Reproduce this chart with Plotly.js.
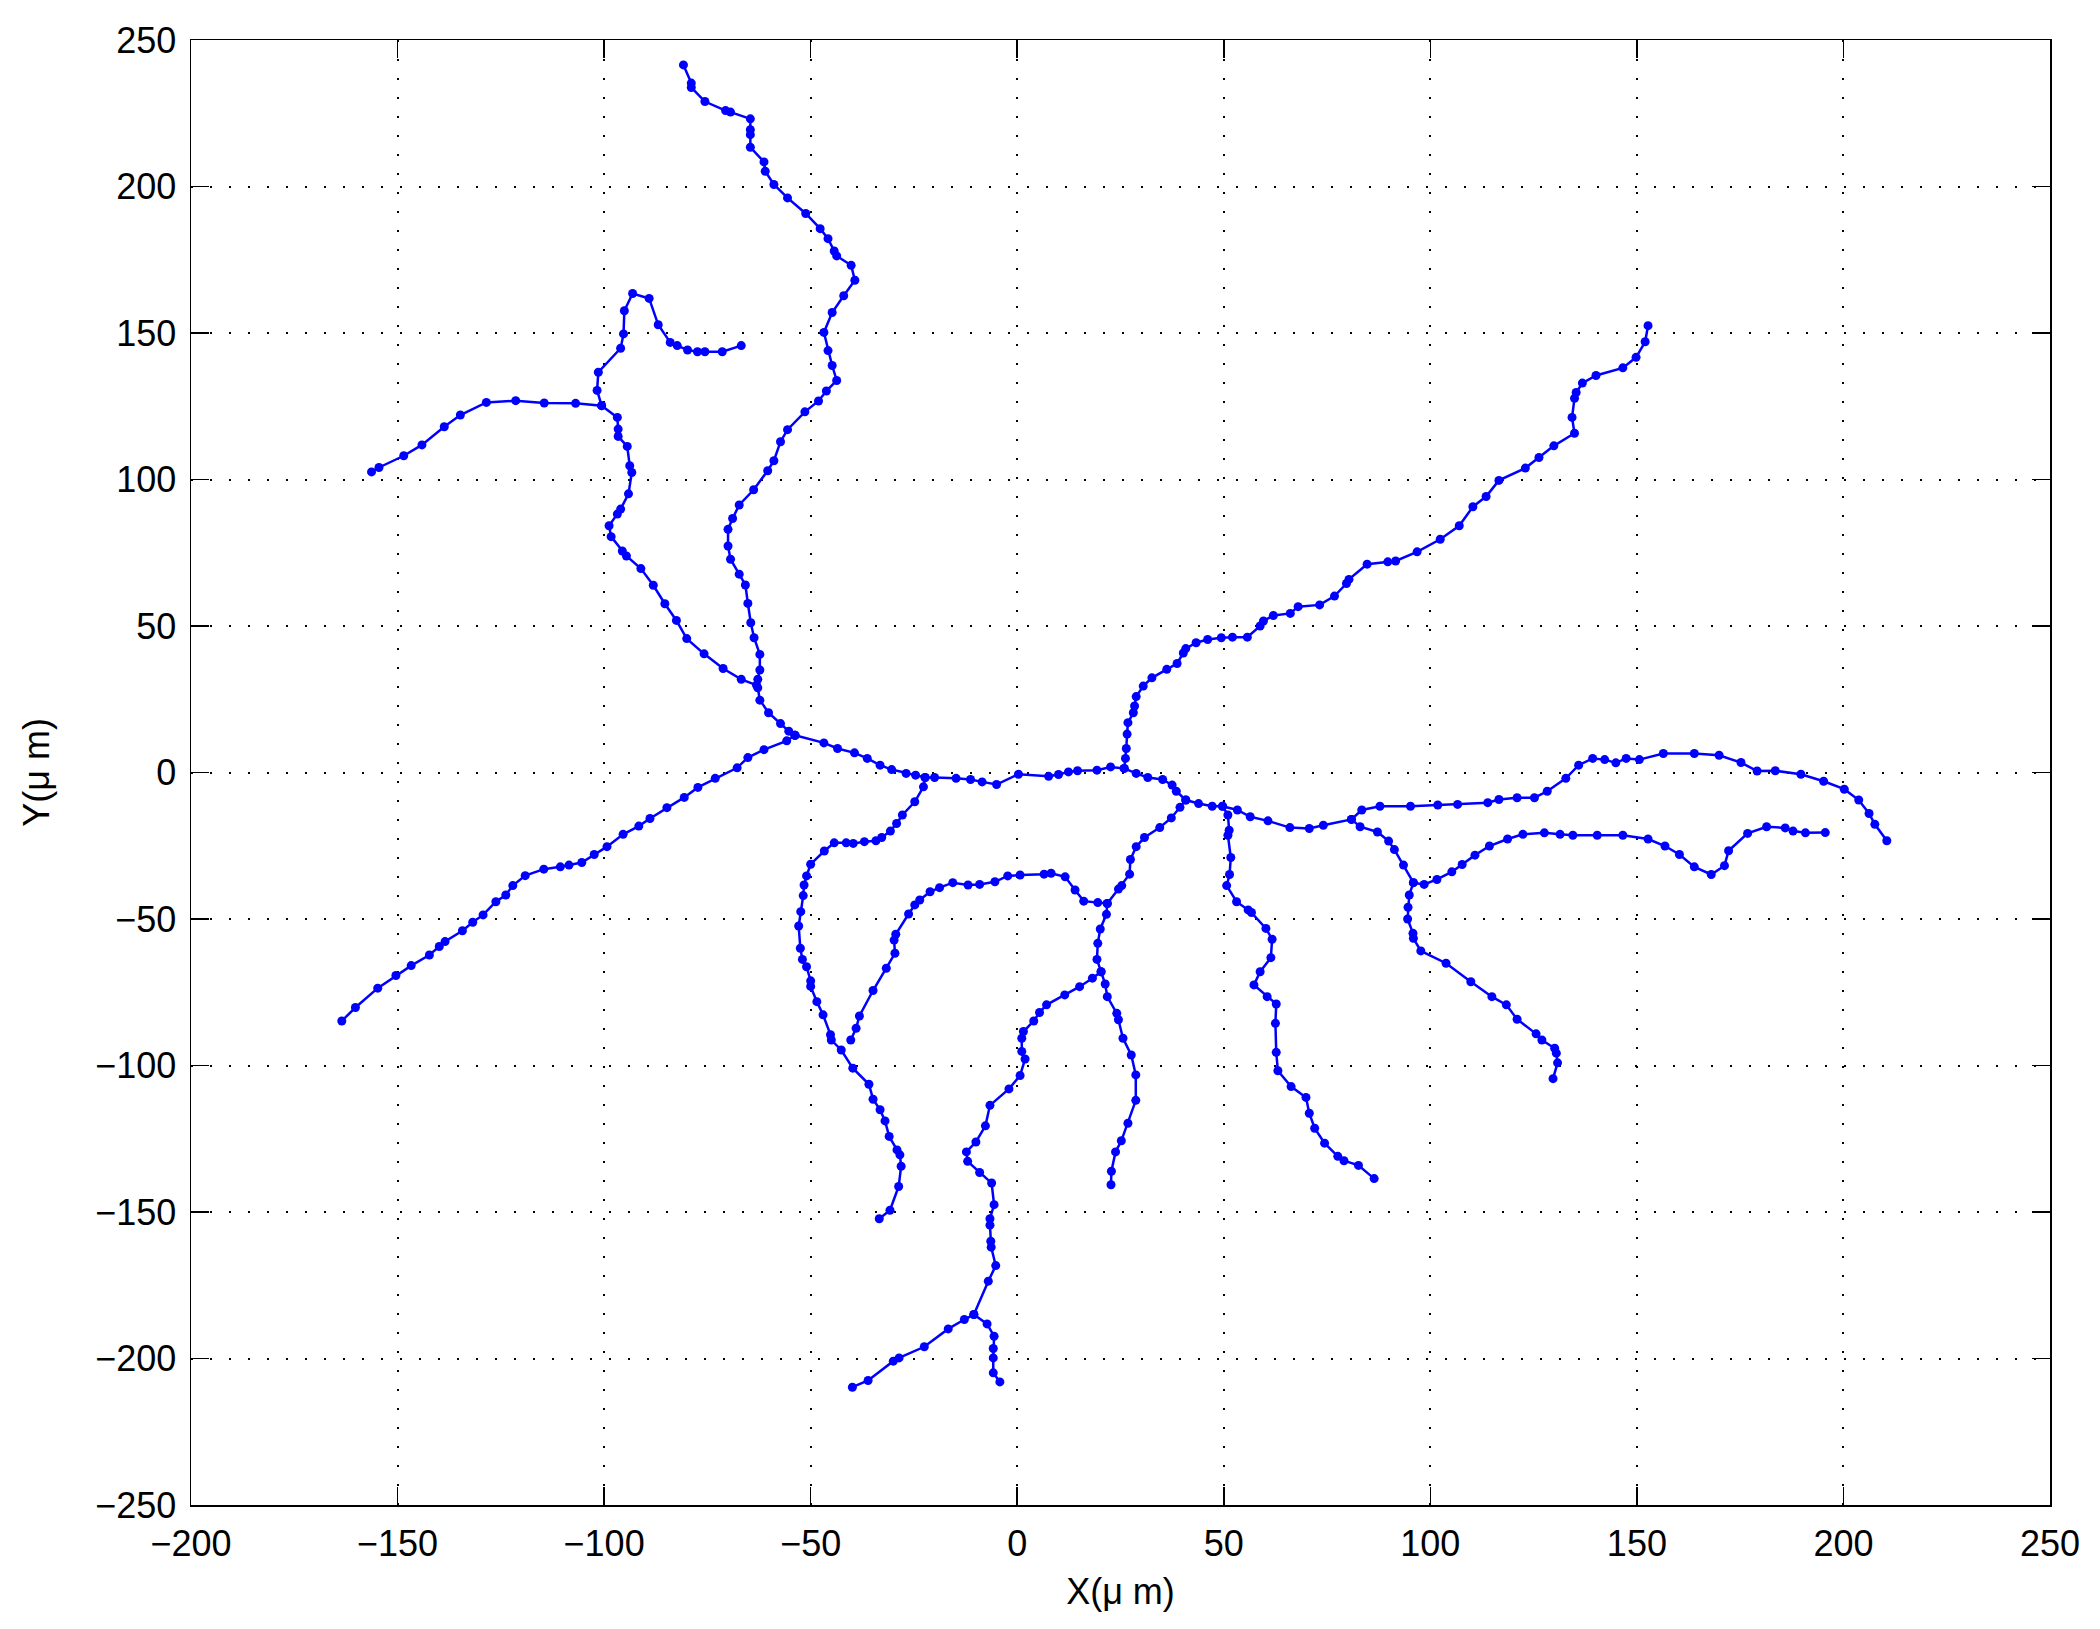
<!DOCTYPE html>
<html>
<head>
<meta charset="utf-8">
<script src="https://cdn.plot.ly/plotly-3.0.1.min.js"></script>
<style>html,body{margin:0;padding:0;background:#fff;}#chart{width:2100px;height:1629px;}</style>
</head>
<body>
<div id="chart"></div>
<script>
// Traced neuron branches, [x, y] in micrometres
const branchA = [[-80.8,241.5],[-78.9,235.3],[-78.9,233.8],[-75.6,229.0],[-70.6,225.9],[-69.4,225.4],[-64.6,223.1],[-64.6,219.4],[-64.6,217.7],[-64.6,213.4],[-61.3,208.4],[-61.0,205.2],[-58.9,200.7],[-55.6,196.1],[-51.2,190.8],[-47.7,185.6],[-45.8,182.2],[-44.3,178.0],[-43.7,176.3],[-40.2,173.1],[-39.3,168.0],[-42.0,162.7],[-44.8,157.0],[-46.8,150.2],[-45.8,144.0],[-44.8,138.9],[-43.7,133.8],[-46.2,130.2],[-48.1,126.8],[-51.4,123.1],[-55.6,117.0],[-57.3,112.9],[-58.9,106.4],[-60.4,103.0],[-63.8,96.5],[-67.3,91.3],[-68.9,86.7],[-70.0,83.0],[-70.0,77.3],[-69.4,72.8],[-67.3,67.7],[-65.8,64.0],[-65.2,57.7],[-64.5,51.1],[-63.7,46.0],[-62.3,40.3],[-62.3,35.0],[-62.8,31.8],[-62.8,28.9],[-62.3,24.7],[-60.2,20.4],[-57.3,16.7],[-55.3,14.1],[-53.8,12.7]];
const branchB = [[-156.3,102.6],[-154.5,104.1],[-148.5,108.1],[-144.1,111.8],[-138.7,118.0],[-134.8,122.0],[-128.5,126.3],[-121.4,126.9],[-114.5,126.1],[-106.9,126.0],[-100.6,125.2],[-96.8,121.2],[-96.6,117.2],[-96.6,114.7],[-94.4,111.3],[-93.8,104.7],[-93.3,102.4],[-94.1,95.1],[-96.0,89.9],[-96.8,88.2],[-98.8,84.2],[-98.3,80.5],[-95.6,75.6],[-94.6,73.9],[-91.1,69.6],[-88.1,63.9],[-85.3,57.6],[-82.5,51.9],[-80.0,45.7],[-75.8,40.5],[-71.2,35.5],[-66.8,31.8],[-63.1,29.8]];
const branchHook = [[-100.6,125.2],[-101.7,130.4],[-101.4,136.6],[-96.0,144.8],[-95.3,149.7],[-95.1,157.6],[-93.1,163.5],[-89.1,161.8],[-86.9,152.8],[-84.0,146.8],[-82.3,145.7],[-79.8,144.2],[-77.4,143.6],[-75.6,143.6],[-71.4,143.6],[-66.8,145.7]];
const branchC = [[-53.8,12.7],[-55.8,10.8],[-61.3,7.8],[-65.2,5.1],[-67.8,1.6],[-73.1,-2.0],[-77.3,-5.1],[-80.6,-8.5],[-84.8,-12.0],[-88.9,-15.7],[-91.6,-18.3],[-95.4,-21.1],[-99.3,-25.3],[-102.4,-28.0],[-105.4,-30.7],[-108.5,-31.6],[-110.6,-32.2],[-114.6,-33.0],[-119.1,-35.2],[-122.1,-38.6],[-123.8,-41.8],[-126.2,-44.1],[-129.3,-48.6],[-131.8,-51.1],[-134.3,-54.0],[-138.5,-57.7],[-139.9,-59.4],[-142.3,-62.3],[-146.7,-65.9],[-150.4,-69.3],[-154.8,-73.6],[-160.2,-80.2],[-163.5,-84.8]];
const branchD = [[-53.8,12.7],[-46.8,10.1],[-43.5,8.2],[-39.4,6.7],[-36.3,4.8],[-33.2,2.5],[-30.4,1.0],[-26.9,-0.3],[-24.6,-0.9],[-22.3,-1.7],[-20.0,-1.7],[-14.8,-2.0],[-11.3,-2.4],[-8.5,-3.2],[-5.0,-4.1],[0.3,-0.6],[7.6,-1.3],[10.0,-0.7],[12.4,0.2],[14.6,0.6],[19.3,0.8],[22.6,1.9],[25.9,1.4],[28.8,-0.3],[31.6,-1.7],[35.2,-2.4],[37.5,-4.3],[38.5,-6.4],[40.8,-9.4],[43.9,-10.6],[47.2,-11.5],[49.7,-11.5],[53.3,-12.8],[56.4,-15.1],[60.7,-16.5],[66.0,-18.8],[70.7,-19.1],[74.1,-18.0],[80.9,-16.0],[83.4,-12.8],[87.8,-11.5],[95.2,-11.5],[101.8,-11.1],[106.6,-10.9],[113.9,-10.3],[116.6,-9.2],[121.0,-8.6],[125.2,-8.6],[128.3,-6.4],[132.8,-2.0],[135.9,2.5],[139.3,4.8],[142.2,4.4],[144.9,3.3],[147.4,4.8],[150.6,4.4],[156.4,6.5],[163.9,6.5],[169.9,5.9],[175.2,3.4],[179.1,0.5],[183.5,0.6],[189.7,-0.6],[195.2,-3.0],[200.2,-5.7],[203.7,-9.4],[206.2,-14.0],[207.6,-17.7],[210.5,-23.3]];
const branchE = [[-22.3,-1.7],[-22.7,-4.9],[-24.8,-10.0],[-27.8,-14.5],[-29.2,-17.4],[-30.7,-20.0],[-32.8,-22.2],[-34.2,-23.3],[-37.0,-23.6],[-39.7,-24.2],[-41.4,-24.0],[-44.3,-24.0],[-46.7,-26.8],[-50.0,-31.3],[-51.0,-35.3],[-51.6,-38.4],[-51.8,-42.0],[-52.4,-47.5],[-52.9,-52.4],[-52.5,-60.0],[-52.0,-63.8],[-51.0,-66.3],[-50.0,-71.1],[-50.0,-73.0],[-48.5,-78.2],[-47.0,-82.7],[-45.2,-89.5],[-45.0,-91.3],[-42.6,-94.7],[-39.8,-100.9],[-35.9,-106.4],[-34.9,-111.5],[-33.2,-115.1],[-32.0,-118.9],[-31.0,-124.2],[-29.1,-128.8],[-28.4,-130.5],[-28.1,-134.4],[-28.7,-141.3],[-30.8,-149.4],[-33.4,-152.3]];
const branchF = [[25.9,1.4],[26.2,4.8],[26.4,8.2],[26.6,13.1],[26.8,17.0],[28.1,20.4],[28.4,22.7],[28.8,25.9],[30.5,29.5],[32.6,32.3],[36.2,35.2],[38.7,37.2],[40.2,40.8],[40.8,42.3],[43.3,44.3],[46.1,45.4],[49.4,46.0],[52.1,46.2],[55.7,46.2],[58.8,50.0],[59.6,51.7],[62.0,53.6],[66.1,54.3],[68.0,56.6],[73.2,57.2],[76.8,60.2],[79.7,64.5],[80.3,65.9],[84.7,71.1],[89.7,71.9],[91.6,72.2],[96.8,75.3],[102.4,79.6],[107.0,84.2],[110.3,90.7],[113.5,94.2],[116.6,99.7],[123.0,103.9],[126.3,107.5],[129.9,111.5],[134.9,115.8],[134.3,121.2],[134.9,127.7],[135.3,129.7],[136.8,132.9],[140.1,135.5],[146.6,138.1],[149.8,141.7],[152.0,147.0],[152.7,152.5]];
const branchG = [[40.8,-9.4],[39.4,-11.9],[37.3,-15.5],[34.5,-18.8],[30.8,-22.2],[28.8,-25.3],[27.4,-29.7],[27.2,-34.7],[25.3,-38.6],[24.5,-39.8],[21.8,-44.7],[21.6,-48.4],[20.1,-53.4],[19.5,-58.3],[19.3,-63.8],[20.3,-68.0],[21.3,-72.2],[21.8,-76.5],[24.1,-82.2],[24.5,-84.4],[25.6,-90.7],[27.6,-96.4],[28.7,-103.2],[28.7,-111.9],[26.8,-119.7],[25.2,-125.7],[23.8,-129.5],[22.8,-136.1],[22.7,-140.7]];
const branchH = [[21.8,-44.7],[19.5,-44.4],[16.1,-43.9],[14.0,-40.1],[11.6,-35.6],[8.2,-34.4],[6.5,-34.7],[0.7,-35.0],[-2.3,-35.3],[-5.4,-37.3],[-9.1,-38.2],[-11.9,-38.4],[-15.6,-37.6],[-18.8,-39.3],[-21.1,-40.7],[-23.6,-43.5],[-24.8,-45.2],[-26.3,-48.3],[-29.4,-55.2],[-29.8,-57.2],[-29.6,-61.7],[-31.7,-66.8],[-34.9,-74.4],[-38.2,-83.1],[-39.0,-87.3],[-40.3,-91.3]];
const branchI = [[20.3,-68.0],[18.2,-70.2],[15.1,-73.1],[11.5,-75.9],[7.1,-79.3],[5.4,-81.9],[4.0,-84.8],[1.5,-88.4],[1.1,-90.7],[1.1,-95.2],[1.9,-97.8],[0.7,-103.4],[-2.0,-108.0],[-6.6,-113.6],[-7.7,-120.6],[-10.0,-126.1],[-12.3,-129.5],[-12.0,-132.7],[-9.1,-136.5],[-6.2,-140.1],[-5.6,-147.5],[-6.6,-152.3],[-6.6,-154.5],[-6.4,-160.0],[-6.3,-162.0],[-5.2,-168.3],[-7.0,-173.6],[-10.5,-185.0],[-7.3,-188.2],[-5.6,-192.4],[-5.8,-196.6],[-5.8,-199.8],[-5.8,-204.9],[-4.2,-208.0]];
const branchK = [[-10.5,-185.0],[-12.8,-186.7],[-16.7,-189.9],[-22.5,-196.0],[-28.6,-199.8],[-30.0,-200.9],[-36.1,-207.5],[-39.9,-209.8]];
const branchG2 = [[49.7,-11.5],[51.0,-14.5],[51.3,-19.7],[51.0,-21.4],[51.7,-29.0],[51.4,-34.8],[50.7,-38.6],[53.1,-44.1],[55.9,-46.9],[56.7,-47.8],[60.2,-53.2],[61.7,-56.9],[61.4,-63.2],[58.8,-68.0],[57.3,-72.5],[60.5,-76.5],[62.7,-79.0],[62.5,-85.6],[62.7,-95.5],[63.1,-101.8],[66.3,-107.2],[69.9,-110.9],[70.7,-116.3],[72.0,-121.4],[74.4,-126.5],[77.6,-131.0],[79.1,-132.5],[82.6,-134.1],[86.4,-138.6]];
const branchM = [[80.9,-16.0],[83.0,-18.5],[87.2,-20.3],[89.9,-23.4],[91.3,-26.3],[93.5,-31.6],[95.9,-37.6],[94.9,-41.8],[94.6,-46.0],[94.5,-50.0],[95.8,-54.9],[95.9,-56.6],[97.7,-60.9],[103.8,-65.1],[109.8,-71.4],[114.9,-76.5],[118.4,-79.3],[121.0,-84.2],[125.6,-89.2],[127.0,-91.3],[130.1,-94.1],[130.5,-95.8],[130.8,-99.1],[129.7,-104.5]];
const branchN = [[95.9,-37.6],[98.5,-38.2],[101.6,-36.5],[105.2,-33.9],[107.7,-31.4],[110.8,-28.2],[114.3,-25.1],[118.7,-22.7],[122.4,-21.1],[127.6,-20.6],[131.4,-21.1],[134.5,-21.4],[140.4,-21.4],[146.6,-21.4],[152.7,-22.7],[156.8,-25.1],[160.3,-28.0],[163.9,-32.2],[168.0,-34.8],[171.2,-31.8],[172.2,-26.7],[176.8,-20.8],[181.4,-18.5],[185.9,-18.9],[187.8,-20.0],[190.8,-20.6],[195.6,-20.5]];

const xTicks = [-200,-150,-100,-50,0,50,100,150,200,250];
const yTicks = [-250,-200,-150,-100,-50,0,50,100,150,200,250];
const xLabel = 'X(\u03bc m)';
const yLabel = 'Y(\u03bc m)';

const branches = [branchA, branchB, branchHook, branchC, branchD, branchE, branchF, branchG, branchH, branchI, branchK, branchG2, branchM, branchN];

const traces = branches.map(b => ({
  type: 'scatter',
  mode: 'lines+markers',
  x: b.map(p => p[0]),
  y: b.map(p => p[1]),
  line: {color: '#0000ff', width: 2.5},
  marker: {color: '#0000ff', size: 9},
  showlegend: false,
  hoverinfo: 'x+y'
}));

const font = {family: '"Liberation Sans", Arial, Helvetica, sans-serif', size: 36, color: '#000'};

const axisCommon = {
  showline: true, linecolor: '#000', linewidth: 1.5, mirror: 'ticks',
  ticks: 'inside', ticklen: 18, tickwidth: 1.5, tickcolor: '#000',
  showgrid: true, gridcolor: '#000', gridwidth: 2, griddash: '2px,17px',
  zeroline: false, automargin: false, tickfont: font
};

const fmt = v => (v < 0 ? '\u2212' + Math.abs(v) : String(v));

const layout = {
  width: 2100, height: 1629,
  margin: {l: 191, r: 50, t: 40, b: 124},
  paper_bgcolor: '#fff', plot_bgcolor: '#fff',
  font: font,
  xaxis: Object.assign({}, axisCommon, {
    range: [-200, 250], tickmode: 'array', tickvals: xTicks, ticktext: xTicks.map(fmt),
    ticklabelstandoff: 6,
    title: {text: xLabel, font: font, standoff: 16}
  }),
  yaxis: Object.assign({}, axisCommon, {
    range: [-250, 250], tickmode: 'array', tickvals: yTicks, ticktext: yTicks.map(fmt),
    ticklabelstandoff: 6,
    title: {text: yLabel, font: font, standoff: 34}
  })
};

Plotly.newPlot('chart', traces, layout, {displayModeBar: false, staticPlot: true});
</script>
</body>
</html>
